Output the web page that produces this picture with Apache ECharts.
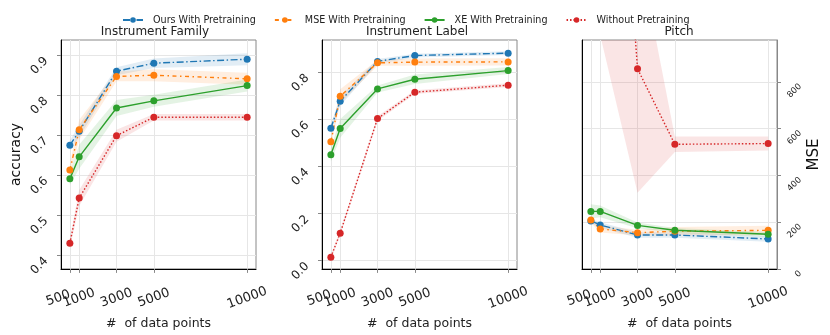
<!DOCTYPE html>
<html>
<head>
<meta charset="utf-8">
<script src="https://cdn.jsdelivr.net/npm/echarts@6/dist/echarts.min.js"></script>
<style>
    html, body { margin: 0; padding: 0; background: #fff; }
    #chart { width: 830px; height: 335px; }
</style>
</head>
<body>
<div id="chart"></div>
<script>
// x axis: number of data points
var points = [500, 1000, 3000, 5000, 10000];

// Instrument Family (accuracy), means and half width of the band
var familyOurs = [0.674, 0.709, 0.859, 0.879, 0.889];
var familyMse  = [0.612, 0.713, 0.846, 0.849, 0.840];
var familyXe   = [0.590, 0.645, 0.767, 0.785, 0.823];
var familyNone = [0.429, 0.542, 0.698, 0.744, 0.744];
var familyOursBand = [0.012, 0.015, 0.010, 0.012, 0.015];
var familyMseBand  = [0.015, 0.025, 0.012, 0.015, 0.015];
var familyXeBand   = [0.015, 0.030, 0.020, 0.015, 0.015];
var familyNoneBand = [0.012, 0.020, 0.015, 0.008, 0.008];
var familyTicks = [0.4, 0.5, 0.6, 0.7, 0.8, 0.9];

// Instrument Label (accuracy)
var labelOurs = [0.561, 0.676, 0.845, 0.870, 0.880];
var labelMse  = [0.504, 0.697, 0.839, 0.842, 0.843];
var labelXe   = [0.448, 0.560, 0.728, 0.769, 0.806];
var labelNone = [0.013, 0.115, 0.602, 0.714, 0.744];
var labelOursBand = [0.015, 0.020, 0.010, 0.008, 0.008];
var labelMseBand  = [0.020, 0.030, 0.012, 0.015, 0.015];
var labelXeBand   = [0.030, 0.040, 0.015, 0.020, 0.015];
var labelNoneBand = [0.010, 0.010, 0.010, 0.008, 0.008];
var labelTicks = [0.0, 0.2, 0.4, 0.6, 0.8];

// Pitch (MSE)
var pitchOurs = [205, 188, 145, 145, 128];
var pitchMse  = [209, 171, 155, 161, 165];
var pitchXe   = [246, 246, 186, 165, 148];
var pitchNone = [3900, 3070, 856, 533, 536];
var pitchOursBand = [10, 12, 12, 12, 12];
var pitchMseBand  = [12, 15, 12, 18, 20];
var pitchXeBand   = [30, 25, 12, 10, 10];
var pitchNoneBand = [2000, 2070, 530, 33, 30];
var pitchTicks = [0, 200, 400, 600, 800];

var names = ['Ours With Pretraining', 'MSE With Pretraining', 'XE With Pretraining', 'Without Pretraining'];
var colors = ['#1f77b4', '#ff7f0e', '#2ca02c', '#d62728'];
var fills = ['rgba(31,119,180,0.13)', 'rgba(255,127,14,0.13)', 'rgba(44,160,44,0.13)', 'rgba(214,39,40,0.12)'];
var dashes = [[7, 2.5, 1.5, 2.5], [4, 3.5, 1.5, 3.5], 'solid', [1.5, 2]];

var FONT = 'DejaVu Sans';
var gridColor = '#e6e6e6';

// 阴影带: 一个多边形, 裁剪到网格内
function bandSeries(gi, mean, band, fill) {
    var rows = mean.map(function (v, i) { return [points[i], v - band[i], v + band[i]]; });
    return {
        type: 'custom', xAxisIndex: gi, yAxisIndex: gi, silent: true, z: 1,
        data: rows,
        encode: { x: 0, y: [1, 2] },
        renderItem: function (params, api) {
            if (params.dataIndex !== 0) return;
            var upper = rows.map(function (r) { return api.coord([r[0], r[2]]); });
            var lower = rows.map(function (r) { return api.coord([r[0], r[1]]); }).reverse();
            var cs = params.coordSys;
            return {
                type: 'polygon',
                shape: { points: upper.concat(lower) },
                style: { fill: fill },
                clipPath: { type: 'rect', shape: { x: cs.x, y: cs.y, width: cs.width, height: cs.height } }
            };
        }
    };
}

// 一个面板: 先画阴影带, 再画折线
function addPanel(series, gi, means, bands) {
    means.forEach(function (m, k) {
        series.push(bandSeries(gi, m, bands[k], fills[k]));
    });
    means.forEach(function (m, k) {
        series.push({
            name: names[k], type: 'line', xAxisIndex: gi, yAxisIndex: gi,
            data: m.map(function (v, i) { return [points[i], v]; }),
            symbol: 'circle', symbolSize: 7, z: 3,
            itemStyle: { color: colors[k] },
            lineStyle: { color: colors[k], width: 1.4, type: dashes[k] }
        });
    });
}

function labelStyle(values, align, margin) {
    return {
        customValues: values, rotate: 20, align: align, verticalAlign: 'middle',
        margin: margin, fontSize: 13, color: '#222', fontFamily: FONT,
        interval: 0, hideOverlap: false, showMinLabel: true, showMaxLabel: true,
        formatter: function (v) { return String(v); }
    };
}

function xAxisFor(gi) {
    return {
        type: 'value', gridIndex: gi, min: 25, max: 10475, position: 'bottom',
        name: '#  of data points', nameLocation: 'middle', nameGap: 39,
        nameTextStyle: { fontSize: 12.5, color: '#222', fontFamily: FONT },
        axisLine: { onZero: false, lineStyle: { color: '#000', width: 1 } },
        axisTick: { customValues: points, length: 4, lineStyle: { color: '#888' } },
        axisLabel: labelStyle(points.slice(1), 'center', 29),
        splitLine: { show: true, lineStyle: { color: gridColor, width: 1 } }
    };
}

// 500 和 1000 挤在一起, 500 的标签单独放一根轴上
function xAxisFirst(gi) {
    return {
        type: 'value', gridIndex: gi, min: 25, max: 10475, position: 'bottom', offset: 0,
        axisLine: { show: false, onZero: false },
        axisTick: { show: false },
        axisLabel: labelStyle(points.slice(0, 1), 'right', 25),
        splitLine: { show: false }
    };
}

function yAxisFor(gi, min, max, ticks, name, digits) {
    return {
        type: 'value', gridIndex: gi, min: min, max: max,
        name: name, nameLocation: 'middle', nameGap: 38, nameRotate: 90,
        nameTextStyle: { fontSize: 14, color: '#111', fontFamily: FONT },
        axisLine: { show: true, onZero: false, lineStyle: { color: '#000', width: 1 } },
        axisTick: { show: true, customValues: ticks, length: 4, lineStyle: { color: '#888' } },
        axisLabel: {
            customValues: ticks, rotate: 45, verticalAlign: 'top', margin: 19,
            fontSize: 12, color: '#222', fontFamily: FONT,
            showMinLabel: true, showMaxLabel: true,
            formatter: function (v) { return v.toFixed(digits); }
        },
        splitLine: { show: true, lineStyle: { color: gridColor, width: 1 } }
    };
}

var series = [];
addPanel(series, 0, [familyOurs, familyMse, familyXe, familyNone],
    [familyOursBand, familyMseBand, familyXeBand, familyNoneBand]);
addPanel(series, 1, [labelOurs, labelMse, labelXe, labelNone],
    [labelOursBand, labelMseBand, labelXeBand, labelNoneBand]);
addPanel(series, 2, [pitchOurs, pitchMse, pitchXe, pitchNone],
    [pitchOursBand, pitchMseBand, pitchXeBand, pitchNoneBand]);

var titleStyle = { fontSize: 12, fontWeight: 'normal', color: '#222', fontFamily: FONT };

var pitchAxis = yAxisFor(2, 0, 979, pitchTicks, 'MSE', 0);
pitchAxis.position = 'right';
pitchAxis.nameGap = 28;
pitchAxis.nameTextStyle.fontSize = 15;
pitchAxis.axisLine.lineStyle.color = '#888';
pitchAxis.axisLabel.fontSize = 8.5;
pitchAxis.axisLabel.align = 'right';
pitchAxis.axisLabel.margin = 20;

var option = {
    animation: false,
    textStyle: { fontFamily: FONT },
    title: [
        { text: 'Instrument Family', left: 155, top: 26, padding: 0, textAlign: 'center', textStyle: titleStyle },
        { text: 'Instrument Label', left: 417, top: 26, padding: 0, textAlign: 'center', textStyle: titleStyle },
        { text: 'Pitch', left: 679, top: 26, padding: 0, textAlign: 'center', textStyle: titleStyle }
    ],
    legend: {
        data: names, top: 10, left: 117, itemGap: 18, itemWidth: 20, itemHeight: 7,
        textStyle: { fontSize: 9.6, color: '#222', fontFamily: FONT, padding: [0, 0, 0, 5] }
    },
    grid: [
        { left: 61, top: 40, width: 195, height: 231, show: true, borderColor: '#888', borderWidth: 1 },
        { left: 322, top: 40, width: 195, height: 231, show: true, borderColor: '#888', borderWidth: 1 },
        { left: 582, top: 40, width: 195, height: 231, show: true, borderColor: '#888', borderWidth: 1 }
    ],
    xAxis: [xAxisFor(0), xAxisFor(1), xAxisFor(2), xAxisFirst(0), xAxisFirst(1), xAxisFirst(2)],
    yAxis: [
        yAxisFor(0, 0.365, 0.937, familyTicks, 'accuracy', 1),
        yAxisFor(1, -0.037, 0.936, labelTicks, '', 1),
        pitchAxis,
        {
            type: 'value', gridIndex: 2, position: 'left', min: 0, max: 1,
            axisLine: { show: true, onZero: false, lineStyle: { color: '#000', width: 1 } },
            axisTick: { show: false }, axisLabel: { show: false }, splitLine: { show: false }
        }
    ],
    series: series
};

var chart = echarts.init(document.getElementById('chart'));
chart.setOption(option);
</script>
</body>
</html>
